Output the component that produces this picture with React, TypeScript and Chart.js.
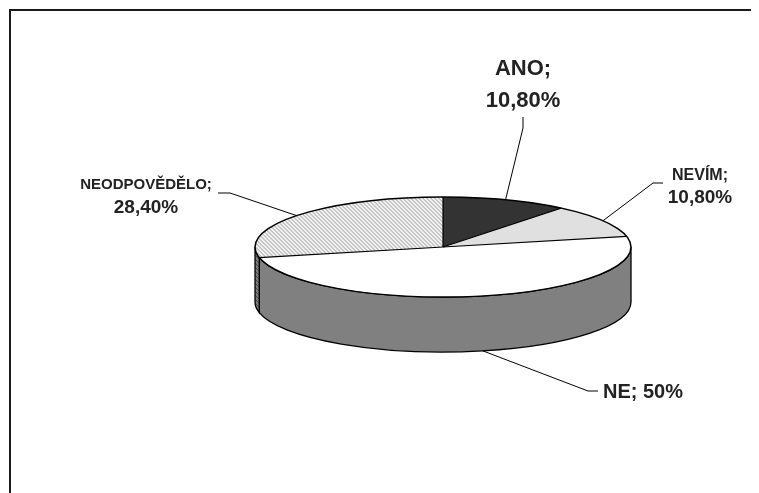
import { useEffect, useRef } from "react";
import { Chart, ArcElement, PieController } from "chart.js";

Chart.register(ArcElement, PieController);

// Survey answers and their shares (percent)
const categories = ["ANO", "NEVÍM", "NE", "NEODPOVĚDĚLO"];
const shares = [10.8, 10.8, 50, 28.4];

// Fills of the top face and of the extruded side
const topColors = ["#333333", "#e0e0e0", "#ffffff", "hatch"];
const sideColors = ["#1c1c1c", "#a6a6a6", "#808080", "hatch-dark"];

const RADIUS = 188;
const TILT = 50 / 188; // vertical squash of the top face
const DEPTH = 55; // thickness of the disc in px

type LabelLayout = {
  oneLine: boolean;
  sizes: number[];
  x: number;
  baselines: number[];
  align: CanvasTextAlign;
  elbow: [number, number];
  end: [number, number];
};

const labelLayout: LabelLayout[] = [
  { oneLine: false, sizes: [22, 22], x: 515, baselines: [67, 99], align: "center", elbow: [515, 120], end: [515, 109] },
  { oneLine: false, sizes: [16, 19], x: 692, baselines: [172, 195], align: "center", elbow: [645, 175], end: [655, 175] },
  { oneLine: true, sizes: [20], x: 595, baselines: [390], align: "left", elbow: [580, 383], end: [590, 383] },
  { oneLine: false, sizes: [15, 19], x: 138, baselines: [181, 205], align: "center", elbow: [222, 185], end: [210, 185] },
];

const FONT = '"Liberation Sans", Arial, sans-serif';

function formatShare(v: number): string {
  return Number.isInteger(v) ? `${v}%` : v.toFixed(2).replace(".", ",") + "%";
}

function labelLines(i: number): string[] {
  const cat = categories[i];
  const val = formatShare(shares[i]);
  return labelLayout[i].oneLine ? [`${cat}; ${val}`] : [`${cat};`, val];
}

function makeHatch(bg: string, fg: string, undoTilt: boolean): CanvasPattern | string {
  const c = document.createElement("canvas");
  c.width = 4;
  c.height = 4;
  const g = c.getContext("2d");
  if (!g) return bg;
  g.fillStyle = bg;
  g.fillRect(0, 0, 4, 4);
  g.fillStyle = fg;
  for (let i = 0; i < 4; i++) g.fillRect(i, i, 1, 1);
  const p = g.createPattern(c, "repeat");
  if (!p) return bg;
  if (undoTilt) p.setTransform(new DOMMatrix().scale(1, 1 / TILT));
  return p;
}

export default function App() {
  const ref = useRef<HTMLCanvasElement>(null);

  useEffect(() => {
    const canvas = ref.current;
    if (!canvas) return;

    const hatchTop = makeHatch("#f2f2f2", "#9a9a9a", true);
    const hatchSide = makeHatch("#7c7c7c", "#4a4a4a", false);
    const resolve = (c: string, pat: CanvasPattern | string) => (c.startsWith("hatch") ? pat : c);
    const topFills = topColors.map((c) => resolve(c, hatchTop));
    const sideFills = sideColors.map((c) => resolve(c, hatchSide));

    const pie3d = {
      id: "pie3d",
      beforeDraw(chart: any) {
        const { ctx, width, height } = chart;
        ctx.save();
        ctx.fillStyle = "#ffffff";
        ctx.fillRect(0, 0, width, height);
        ctx.fillStyle = "#1a1a1a";
        ctx.fillRect(1, 1, width - 1, 2);
        ctx.fillRect(1, 1, 2, height - 1);
        ctx.restore();
      },
      beforeDatasetsDraw(chart: any) {
        const { ctx } = chart;
        const arcs = chart.getDatasetMeta(0).data as any[];
        const { x: cx, y: cy, outerRadius: R } = arcs[0].getProps(["x", "y", "outerRadius"], true);
        const ry = R * TILT;
        ctx.save();
        arcs.forEach((arc, i) => {
          const { startAngle, endAngle } = arc.getProps(["startAngle", "endAngle"], true);
          for (const shift of [0, 2 * Math.PI, -2 * Math.PI]) {
            const a = Math.max(startAngle + shift, 0);
            const b = Math.min(endAngle + shift, Math.PI);
            if (b <= a) continue;
            ctx.beginPath();
            ctx.ellipse(cx, cy, R, ry, 0, a, b);
            ctx.ellipse(cx, cy + DEPTH, R, ry, 0, b, a, true);
            ctx.closePath();
            ctx.fillStyle = sideFills[i];
            ctx.fill();
            ctx.strokeStyle = "#000000";
            ctx.lineWidth = 1.3;
            ctx.stroke();
          }
        });
        ctx.restore();
        // squash the top face into an ellipse
        ctx.save();
        ctx.translate(cx, cy);
        ctx.scale(1, TILT);
        ctx.translate(-cx, -cy);
      },
      afterDatasetsDraw(chart: any) {
        const { ctx } = chart;
        ctx.restore();
        const arcs = chart.getDatasetMeta(0).data as any[];
        const { x: cx, y: cy, outerRadius: R } = arcs[0].getProps(["x", "y", "outerRadius"], true);
        const ry = R * TILT;

        ctx.save();
        ctx.strokeStyle = "#000000";
        ctx.lineWidth = 1.5;
        ctx.beginPath();
        ctx.ellipse(cx, cy, R, ry, 0, 0, 2 * Math.PI);
        ctx.stroke();
        ctx.lineWidth = 1.2;
        arcs.forEach((arc) => {
          const { startAngle } = arc.getProps(["startAngle"], true);
          ctx.beginPath();
          ctx.moveTo(cx, cy);
          ctx.lineTo(cx + R * Math.cos(startAngle), cy + ry * Math.sin(startAngle));
          ctx.stroke();
        });

        // leader lines and labels
        arcs.forEach((arc, i) => {
          const { startAngle, endAngle } = arc.getProps(["startAngle", "endAngle"], true);
          const mid = (startAngle + endAngle) / 2;
          const px = cx + R * Math.cos(mid);
          const py = cy + ry * Math.sin(mid) + (Math.sin(mid) > 0 ? DEPTH : 0);
          const L = labelLayout[i];
          ctx.strokeStyle = "#000000";
          ctx.lineWidth = 1;
          ctx.beginPath();
          ctx.moveTo(px, py);
          ctx.lineTo(L.elbow[0], L.elbow[1]);
          ctx.lineTo(L.end[0], L.end[1]);
          ctx.stroke();

          ctx.fillStyle = "#222222";
          ctx.textAlign = L.align;
          ctx.textBaseline = "alphabetic";
          labelLines(i).forEach((line, j) => {
            ctx.font = `bold ${L.sizes[j]}px ${FONT}`;
            ctx.fillText(line, L.x, L.baselines[j]);
          });
        });
        ctx.restore();
      },
    };

    const chart = new Chart(canvas, {
      type: "pie",
      data: {
        labels: categories,
        datasets: [
          {
            data: shares,
            backgroundColor: topFills as any,
            borderWidth: 0,
          },
        ],
      },
      options: {
        responsive: false,
        animation: false,
        events: [],
        radius: RADIUS,
        layout: { padding: { left: 247, right: 128, top: 51, bottom: 58 } },
        plugins: { legend: { display: false }, tooltip: { enabled: false } } as any,
      } as any,
      plugins: [pie3d as any],
    });

    return () => chart.destroy();
  }, []);

  return <canvas ref={ref} width={751} height={485} style={{ display: "block" }} />;
}
